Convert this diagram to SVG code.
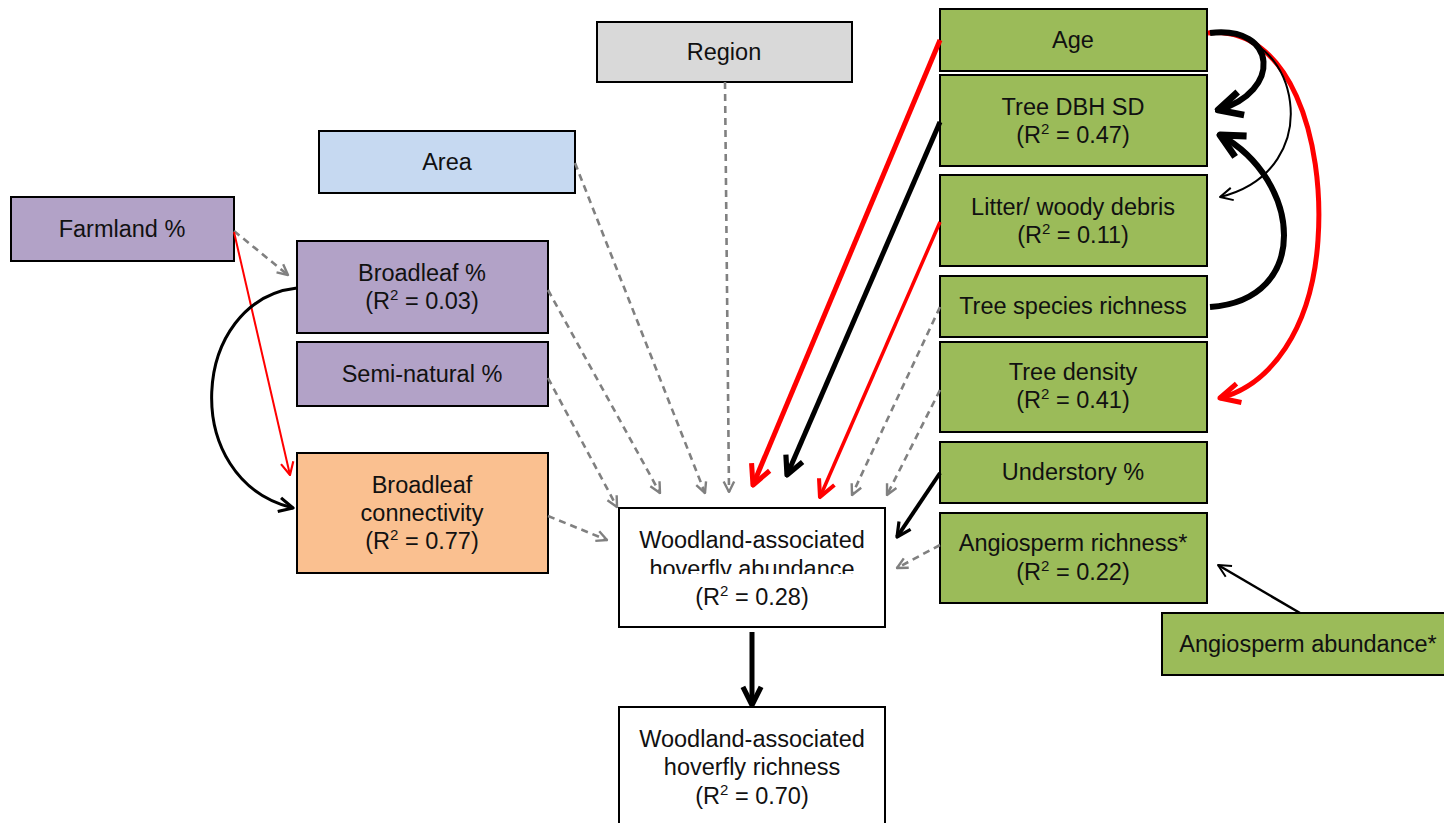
<svg xmlns="http://www.w3.org/2000/svg" width="1444" height="823" viewBox="0 0 1444 823">
  <style>
    .box { stroke: #000; stroke-width: 2; }
    .purple { fill: #b2a2c7; }
    .green { fill: #9bbb59; }
    .blue { fill: #c6d9f1; }
    .grey { fill: #d9d9d9; }
    .orange { fill: #fac090; }
    .white { fill: #fff; }
    text { font-family: "Liberation Sans", Arial, sans-serif; font-size: 23.5px; fill: #111; text-anchor: middle; }
    .sup { font-size: 15px; }
    .dash { fill: none; stroke: #808080; stroke-width: 2.6; stroke-dasharray: 7 5; marker-end: url(#mGrey); }
    .red { fill: none; stroke: #ff0000; }
    .blk { fill: none; stroke: #000; }
  </style>
  <defs>
    <marker id="mGrey" viewBox="0 0 20 20" refX="18" refY="10" markerWidth="15" markerHeight="15" markerUnits="userSpaceOnUse" orient="auto">
      <path d="M4,3 L18,10 L4,17" fill="none" stroke="#808080" stroke-width="3.2" stroke-linejoin="round"/>
    </marker>
    <marker id="mRedBig" viewBox="0 0 20 20" refX="18" refY="10" markerWidth="28" markerHeight="28" markerUnits="userSpaceOnUse" orient="auto">
      <path d="M4,3 L18,10 L4,17" fill="none" stroke="#ff0000" stroke-width="3.6" stroke-linejoin="round"/>
    </marker>
    <marker id="mRedMid" viewBox="0 0 20 20" refX="18" refY="10" markerWidth="24" markerHeight="24" markerUnits="userSpaceOnUse" orient="auto">
      <path d="M4,3 L18,10 L4,17" fill="none" stroke="#ff0000" stroke-width="3.4" stroke-linejoin="round"/>
    </marker>
    <marker id="mRedThin" viewBox="0 0 20 20" refX="18" refY="10" markerWidth="18" markerHeight="18" markerUnits="userSpaceOnUse" orient="auto">
      <path d="M4,3 L18,10 L4,17" fill="none" stroke="#ff0000" stroke-width="2.4" stroke-linejoin="round"/>
    </marker>
    <marker id="mBlkBig" viewBox="0 0 20 20" refX="18" refY="10" markerWidth="26" markerHeight="26" markerUnits="userSpaceOnUse" orient="auto">
      <path d="M4,3 L18,10 L4,17" fill="none" stroke="#000" stroke-width="4" stroke-linejoin="round"/>
    </marker>
    <marker id="mBlkHuge" viewBox="0 0 20 20" refX="18" refY="10" markerWidth="34" markerHeight="34" markerUnits="userSpaceOnUse" orient="auto">
      <path d="M4,3 L18,10 L4,17" fill="none" stroke="#000" stroke-width="4" stroke-linejoin="round"/>
    </marker>
    <marker id="mBlkMid" viewBox="0 0 20 20" refX="18" refY="10" markerWidth="20" markerHeight="20" markerUnits="userSpaceOnUse" orient="auto">
      <path d="M4,3 L18,10 L4,17" fill="none" stroke="#000" stroke-width="3.2" stroke-linejoin="round"/>
    </marker>
    <marker id="mBlkThin" viewBox="0 0 20 20" refX="18" refY="10" markerWidth="18" markerHeight="18" markerUnits="userSpaceOnUse" orient="auto">
      <path d="M4,3 L18,10 L4,17" fill="none" stroke="#000" stroke-width="2.2" stroke-linejoin="round"/>
    </marker>
    <clipPath id="clipAbund">
      <rect x="600" y="550" width="300" height="24"/>
    </clipPath>
  </defs>

  <!-- nodes -->
  <g id="region">
    <rect class="box grey" x="597" y="22" width="255" height="60"/>
    <text x="724" y="60">Region</text>
  </g>
  <g id="area">
    <rect class="box blue" x="319" y="131" width="256" height="62"/>
    <text x="447" y="170">Area</text>
  </g>
  <g id="farmland">
    <rect class="box purple" x="11" y="197" width="223" height="64"/>
    <text x="122" y="237">Farmland %</text>
  </g>
  <g id="broadleaf">
    <rect class="box purple" x="297" y="241" width="251" height="92"/>
    <text x="422" y="281">Broadleaf %</text>
    <text x="422" y="309">(R<tspan class="sup" dy="-9">2</tspan><tspan dy="9"> = 0.03)</tspan></text>
  </g>
  <g id="seminatural">
    <rect class="box purple" x="297" y="342" width="251" height="64"/>
    <text x="422" y="382">Semi-natural %</text>
  </g>
  <g id="connectivity">
    <rect class="box orange" x="297" y="453" width="251" height="120"/>
    <text x="422" y="493">Broadleaf</text>
    <text x="422" y="521">connectivity</text>
    <text x="422" y="549">(R<tspan class="sup" dy="-9">2</tspan><tspan dy="9"> = 0.77)</tspan></text>
  </g>
  <g id="abundance">
    <rect class="box white" x="619" y="508" width="266" height="119"/>
    <text x="752" y="548">Woodland-associated</text>
    <text x="752" y="577" clip-path="url(#clipAbund)">hoverfly abundance</text>
    <text x="752" y="605">(R<tspan class="sup" dy="-9">2</tspan><tspan dy="9"> = 0.28)</tspan></text>
  </g>
  <g id="richness">
    <rect class="box white" x="619" y="707" width="266" height="130"/>
    <text x="752" y="747">Woodland-associated</text>
    <text x="752" y="775">hoverfly richness</text>
    <text x="752" y="804">(R<tspan class="sup" dy="-9">2</tspan><tspan dy="9"> = 0.70)</tspan></text>
  </g>
  <g id="age">
    <rect class="box green" x="940" y="9" width="267" height="62"/>
    <text x="1073" y="48">Age</text>
  </g>
  <g id="dbh">
    <rect class="box green" x="940" y="75" width="267" height="91"/>
    <text x="1073" y="115">Tree DBH SD</text>
    <text x="1073" y="143">(R<tspan class="sup" dy="-9">2</tspan><tspan dy="9"> = 0.47)</tspan></text>
  </g>
  <g id="litter">
    <rect class="box green" x="940" y="175" width="267" height="91"/>
    <text x="1073" y="215">Litter/ woody debris</text>
    <text x="1073" y="243">(R<tspan class="sup" dy="-9">2</tspan><tspan dy="9"> = 0.11)</tspan></text>
  </g>
  <g id="treerichness">
    <rect class="box green" x="940" y="276" width="267" height="61"/>
    <text x="1073" y="314">Tree species richness</text>
  </g>
  <g id="treedensity">
    <rect class="box green" x="940" y="342" width="267" height="90"/>
    <text x="1073" y="380">Tree density</text>
    <text x="1073" y="408">(R<tspan class="sup" dy="-9">2</tspan><tspan dy="9"> = 0.41)</tspan></text>
  </g>
  <g id="understory">
    <rect class="box green" x="940" y="442" width="267" height="61"/>
    <text x="1073" y="480">Understory %</text>
  </g>
  <g id="angiorichness">
    <rect class="box green" x="940" y="513" width="267" height="90"/>
    <text x="1073" y="551">Angiosperm richness*</text>
    <text x="1073" y="580">(R<tspan class="sup" dy="-9">2</tspan><tspan dy="9"> = 0.22)</tspan></text>
  </g>
  <g id="angioabundance">
    <rect class="box green" x="1162" y="613" width="290" height="62"/>
    <text x="1308" y="652">Angiosperm abundance*</text>
  </g>

  <!-- connectors -->
  <g id="connectors">
    <!-- non-significant paths -->
    <path class="dash" d="M234,231 L288,275"/>
    <path class="dash" d="M575,163 L705,493"/>
    <path class="dash" d="M548,290 L660,493"/>
    <path class="dash" d="M548,378 L617,507"/>
    <path class="dash" d="M725,82 L729,492"/>
    <path class="dash" d="M548,516 L607,540"/>
    <path class="dash" d="M940,307 L852,495"/>
    <path class="dash" d="M940,390 L887,495"/>
    <path class="dash" d="M940,545 L897,568"/>

    <!-- negative paths -->
    <path class="red" stroke-width="5" marker-end="url(#mRedBig)" d="M940,40 L753,485"/>
    <path class="red" stroke-width="3.5" marker-end="url(#mRedMid)" d="M940,222 L820,497"/>
    <path class="red" stroke-width="2" marker-end="url(#mRedThin)" d="M234,232 L290,475"/>
    <path class="red" stroke-width="5" marker-end="url(#mRedBig)" d="M1208,33 C1290,25 1325,140 1318,240 C1312,330 1270,385 1220,398"/>

    <!-- positive paths -->
    <path class="blk" stroke-width="5" marker-end="url(#mBlkBig)" d="M940,122 L787,475"/>
    <path class="blk" stroke-width="4" marker-end="url(#mBlkMid)" d="M940,473 L897,537"/>
    <path class="blk" stroke-width="3" marker-end="url(#mBlkMid)" d="M297,288 C190,300 178,480 293,508"/>
    <path class="blk" stroke-width="6" marker-end="url(#mBlkHuge)" d="M1210,33 C1278,25 1282,92 1218,110"/>
    <path class="blk" stroke-width="6" marker-end="url(#mBlkHuge)" d="M1210,307 C1312,300 1302,180 1220,135"/>
    <path class="blk" stroke-width="2" marker-end="url(#mBlkThin)" d="M1210,33 C1300,25 1330,170 1220,197"/>
    <path class="blk" stroke-width="2.5" marker-end="url(#mBlkThin)" d="M1300,613 L1218,565"/>
    <path class="blk" stroke-width="5" marker-end="url(#mBlkBig)" d="M752,632 L752,705"/>
  </g>
</svg>
